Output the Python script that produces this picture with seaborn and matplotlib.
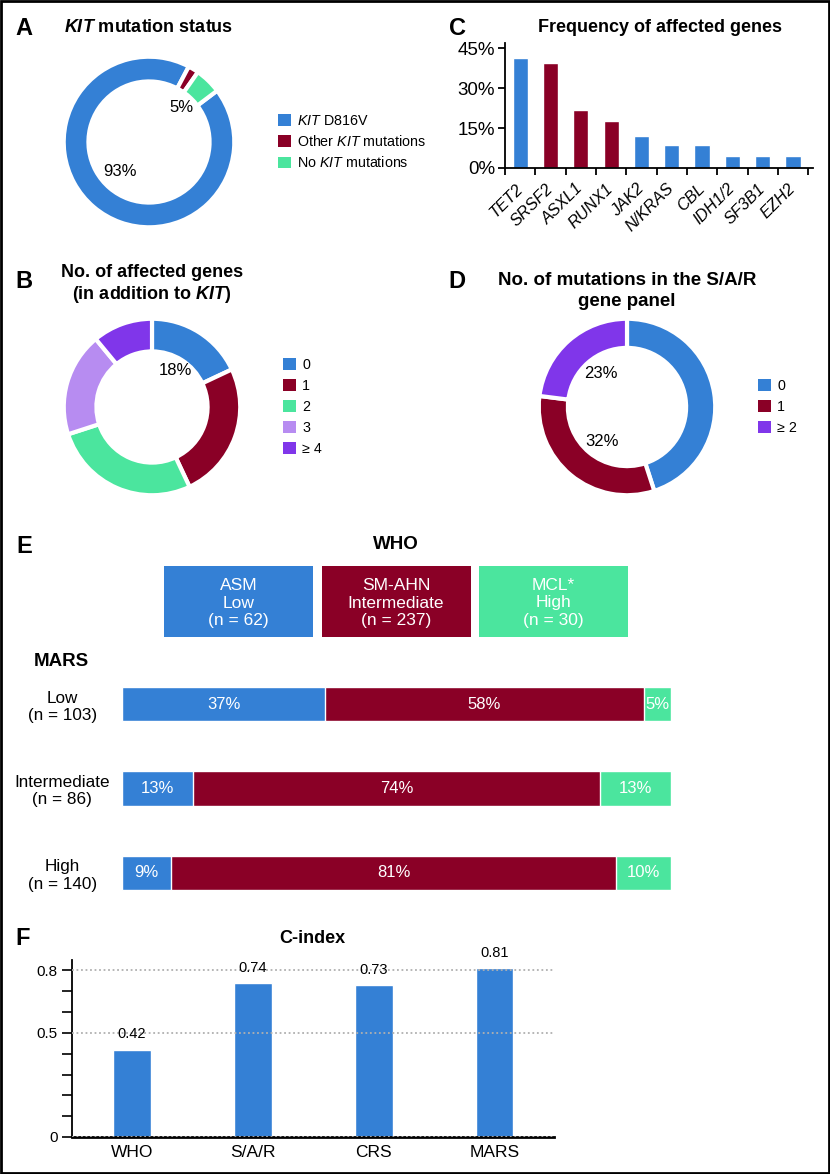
import numpy as np
import pandas as pd
import matplotlib.pyplot as plt
import matplotlib.ticker as mticker
from matplotlib.patches import Rectangle, Patch
from matplotlib.transforms import ScaledTranslation
import seaborn as sns

# colours
BLUE = "#3480D5"
RED = "#8A0026"
GREEN = "#4BE59E"
LILAC = "#B78CF1"
PURPLE = "#8036EA"

# A - KIT mutation status
kit_labels = [r"$\mathit{KIT}$ D816V", r"Other $\mathit{KIT}$ mutations", r"No $\mathit{KIT}$ mutations"]
kit_values = [93, 2, 5]

# B - number of affected genes besides KIT
ngenes_labels = ["0", "1", "2", "3", "≥ 4"]
ngenes_values = [18, 25, 27, 19, 11]

# C - frequency of affected genes
genes = ["TET2", "SRSF2", "ASXL1", "RUNX1", "JAK2", "N/KRAS", "CBL", "IDH1/2", "SF3B1", "EZH2"]
gene_freq = [41.3, 39.4, 21.9, 17.6, 11.9, 8.8, 8.8, 4.4, 4.4, 4.4]
gene_panel = ["other", "S/A/R", "S/A/R", "S/A/R", "other", "other", "other", "other", "other", "other"]

# D - mutations in the S/A/R panel
sar_labels = ["0", "1", "≥ 2"]
sar_values = [45, 32, 23]

# E - WHO vs MARS
who_boxes = ["ASM\nLow\n(n = 62)", "SM-AHN\nIntermediate\n(n = 237)", "MCL*\nHigh\n(n = 30)"]
mars_rows = ["Low\n(n = 103)", "Intermediate\n(n = 86)", "High\n(n = 140)"]
who_low = [37, 13, 9]
who_int = [58, 74, 81]
who_high = [5, 13, 10]

# F - C-index
models = ["WHO", "S/A/R", "CRS", "MARS"]
cindex = [0.42, 0.74, 0.73, 0.81]

sns.set_theme(style="ticks")
plt.rcParams["font.family"] = ["Liberation Sans", "DejaVu Sans"]
plt.rcParams["mathtext.fontset"] = "custom"
plt.rcParams["mathtext.rm"] = "Liberation Sans"
plt.rcParams["mathtext.it"] = "Liberation Sans:italic"
plt.rcParams["mathtext.bf"] = "Liberation Sans:bold"
plt.rcParams["mathtext.bfit"] = "Liberation Sans:italic:bold"
plt.rcParams["text.color"] = "black"
plt.rcParams["axes.edgecolor"] = "black"
plt.rcParams["xtick.color"] = "black"
plt.rcParams["ytick.color"] = "black"

W, H = 830, 1174
fig = plt.figure(figsize=(W / 100, H / 100), dpi=100)


def add_ax(l, t, r, b):
    return fig.add_axes([l / W, 1 - b / H, (r - l) / W, (b - t) / H])


def ftext(x, y, s, **kw):
    kw.setdefault("va", "baseline")
    fig.text(x / W, 1 - y / H, s, **kw)


def donut(box, values, colors, width, start, labels, legend_x, spacing):
    ax = add_ax(*box)
    ax.pie(values, colors=colors, startangle=start, counterclock=False, radius=1,
           wedgeprops=dict(width=width, edgecolor="white", linewidth=3))
    ax.set_xlim(-1.02, 1.02)
    ax.set_ylim(-1.02, 1.02)
    handles = [Patch(facecolor=c, edgecolor="none") for c in colors]
    ax.legend(handles, labels, loc="center left", bbox_to_anchor=(legend_x, 0.5),
              frameon=False, fontsize=10.3, handlelength=0.9, handleheight=0.9,
              handletextpad=0.45, labelspacing=spacing, borderaxespad=0, borderpad=0)
    return ax


# panel letters and titles
for letter, x, y in [("A", 24, 35), ("B", 24, 288), ("C", 457, 35), ("D", 457, 288),
                     ("E", 24, 553), ("F", 23, 945)]:
    ftext(x, y, letter, fontsize=17, fontweight="bold", ha="center")

TS = 13
ftext(149, 32, r"$\mathbfit{KIT}$ mutation status", fontsize=TS, fontweight="bold", ha="center")
ftext(660, 32, "Frequency of affected genes", fontsize=TS, fontweight="bold", ha="center")
ftext(152, 277, "No. of affected genes", fontsize=TS, fontweight="bold", ha="center")
ftext(152, 299, r"(in addition to $\mathbfit{KIT}$)", fontsize=TS, fontweight="bold", ha="center")
ftext(627, 285, "No. of mutations in the S/A/R", fontsize=13.5, fontweight="bold", ha="center")
ftext(627, 306, "gene panel", fontsize=13.5, fontweight="bold", ha="center")
ftext(396, 549, "WHO", fontsize=13.5, fontweight="bold", ha="center")
ftext(61, 666, "MARS", fontsize=13.5, fontweight="bold", ha="center")
ftext(312, 943, "C-index", fontsize=TS, fontweight="bold", ha="center")

# A
axa = donut((62, 55, 236, 229), kit_values, [BLUE, RED, GREEN], 0.29, 37, kit_labels, 1.241, 0.45)
axa.text(-0.345, -0.345, f"{kit_values[0]}%", fontsize=12, ha="center", va="center")
axa.text(0.38, 0.41, f"{kit_values[2]}%", fontsize=12, ha="center", va="center")

# B
axb = donut((62, 317, 242, 497), ngenes_values, [BLUE, RED, GREEN, LILAC, PURPLE], 0.37, 90,
            ngenes_labels, 1.228, 0.5)
axb.text(0.26, 0.41, f"{ngenes_values[0]}%", fontsize=12, ha="center", va="center")

# D
axd = donut((537, 317, 717, 497), sar_values, [BLUE, RED, PURPLE], 0.33, 90, sar_labels, 1.228, 0.5)
axd.text(-0.3, 0.38, f"{sar_values[2]}%", fontsize=12, ha="center", va="center")
axd.text(-0.28, -0.39, f"{sar_values[1]}%", fontsize=12, ha="center", va="center")

# C
axc = add_ax(505, 43, 813, 168)
dfc = pd.DataFrame({"gene": genes, "freq": gene_freq, "panel": gene_panel})
sns.barplot(data=dfc, x="gene", y="freq", hue="panel", palette={"other": BLUE, "S/A/R": RED},
            dodge=False, width=0.5, saturation=1, legend=False, ax=axc)
axc.set_xlim(-0.5, 9.66)
axc.set_ylim(0, 47)
axc.set_yticks([0, 15, 30, 45])
axc.yaxis.set_major_formatter(mticker.FuncFormatter(lambda v, p: f"{v:.0f}%"))
axc.set_xticks(range(len(genes)))
axc.set_xticklabels(genes, rotation=45, ha="right", va="center", rotation_mode="anchor",
                    fontstyle="italic", fontsize=11.8)
shift = ScaledTranslation(8 / 100, 0, fig.dpi_scale_trans)
for t in axc.get_xticklabels():
    t.set_transform(t.get_transform() + shift)
axc.set_xticks(np.arange(-0.5, len(genes), 1), minor=True)
axc.tick_params(axis="x", which="major", length=0, pad=13)
axc.tick_params(axis="x", which="minor", length=5, width=1.3)
axc.tick_params(axis="y", length=5, width=1.3, labelsize=13.5, pad=2)
axc.set_xlabel("")
axc.set_ylabel("")
for s in ["left", "bottom"]:
    axc.spines[s].set_linewidth(1.3)
sns.despine(ax=axc)

# E
axe = add_ax(122, 662, 671, 915)
dfe = pd.DataFrame({"row": mars_rows, "low": who_low, "int": who_int, "high": who_high})
dfe["c1"] = dfe["low"]
dfe["c2"] = dfe["c1"] + dfe["int"]
dfe["c3"] = dfe["c2"] + dfe["high"]
for col, c in [("c3", GREEN), ("c2", RED), ("c1", BLUE)]:
    sns.barplot(data=dfe, y="row", x=col, orient="h", color=c, width=0.41, saturation=1, ax=axe)
axe.set_xlim(0, 100)
axe.set_ylim(2.5, -0.5)
axe.set_xticks([])
axe.set_yticks(range(len(mars_rows)))
axe.set_yticklabels(mars_rows, ha="center", fontsize=12.3)
for t in axe.get_yticklabels():
    t.set_multialignment("center")
axe.tick_params(axis="y", length=0, pad=43)
axe.set_xlabel("")
axe.set_ylabel("")
sns.despine(ax=axe, left=True, bottom=True)
for i, row in dfe.iterrows():
    start = 0
    for v in [row["low"], row["int"], row["high"]]:
        axe.text(start + v / 2, i, f"{v}%", color="white", fontsize=12, ha="center", va="center")
        start += v

# WHO header boxes
for i, (lab, c) in enumerate(zip(who_boxes, [BLUE, RED, GREEN])):
    x0 = 164 + i * 157.5
    fig.patches.append(Rectangle((x0 / W, 1 - 637 / H), 149 / W, 71 / H, transform=fig.transFigure,
                                 facecolor=c, edgecolor="none"))
    fig.text((x0 + 74.5) / W, 1 - 603 / H, lab, color="white", fontsize=12.5, ha="center", va="center",
             multialignment="center", linespacing=1.25)

# F
axf = add_ax(71.5, 960, 554, 1137)
dff = pd.DataFrame({"model": models, "cindex": cindex})
sns.barplot(data=dff, x="model", y="cindex", color=BLUE, width=0.31, saturation=1, ax=axf)
axf.set_xlim(-0.5, 3.49)
axf.set_ylim(0, 0.85)
axf.set_yticks([0, 0.5, 0.8])
axf.set_yticklabels(["0", "0.5", "0.8"])
axf.yaxis.set_minor_locator(mticker.MultipleLocator(0.1))
axf.tick_params(axis="y", which="both", length=7, width=1.2, labelsize=11, pad=3)
axf.tick_params(axis="x", length=0, labelsize=12.5, pad=6)
axf.grid(axis="y", which="major", linestyle=(0, (1, 1.5)), color="#b0b0b0", linewidth=1.3)
axf.set_axisbelow(False)
axf.bar_label(axf.containers[0], fmt="%.2f", padding=6, fontsize=10.5)
axf.set_xlabel("")
axf.set_ylabel("")
sns.despine(ax=axf)
axf.spines["bottom"].set_linewidth(2)
axf.spines["left"].set_linewidth(1.3)

# outer frame
fig.patches.append(Rectangle((0.001, 0.001), 0.998, 0.998, transform=fig.transFigure,
                             fill=False, edgecolor="black", linewidth=2))

fig.savefig("out.png", dpi=100)
